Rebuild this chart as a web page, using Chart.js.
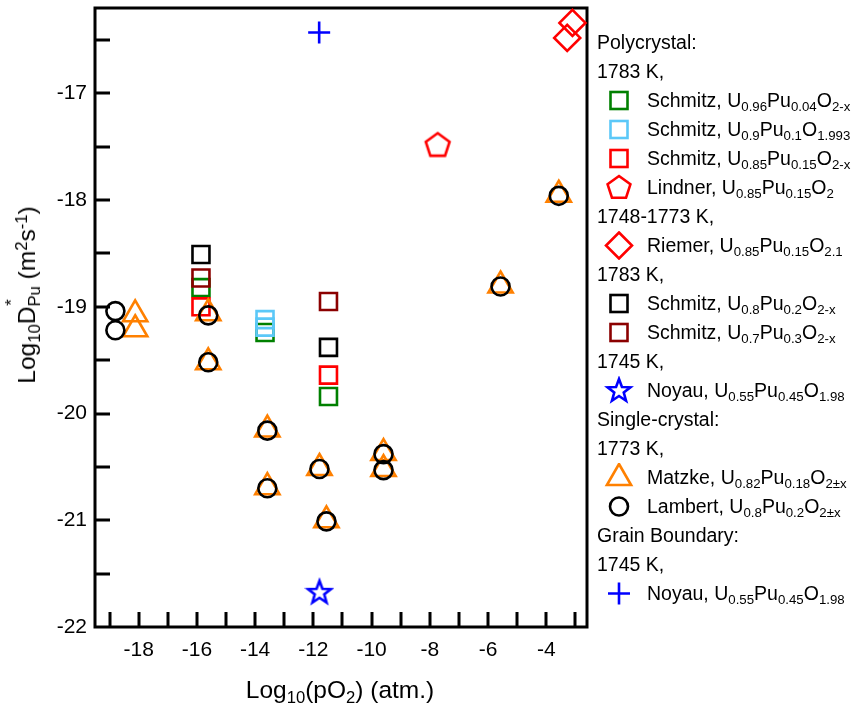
<!DOCTYPE html>
<html>
<head>
<meta charset="utf-8">
<script src="https://cdn.jsdelivr.net/npm/chart.js@4.4.1/dist/chart.umd.min.js"></script>
<style>
html,body{margin:0;padding:0;background:#fff;}
#wrap{position:relative;width:860px;height:705px;font-family:"Liberation Sans",Arial,sans-serif;color:#000;overflow:hidden;}
#c{position:absolute;left:0;top:0;}
#legend{position:absolute;left:597px;top:28px;font-size:19.5px;}
.row{height:29px;line-height:29px;white-space:nowrap;position:relative;}
.item{padding-left:50px;}
.item svg{position:absolute;left:7px;top:0;}
sub{font-size:0.68em;vertical-align:-0.32em;line-height:0;}
sup{font-size:0.68em;vertical-align:0.5em;line-height:0;}
#xtitle{position:absolute;left:340px;top:690px;transform:translate(-50%,-50%);font-size:24.5px;white-space:nowrap;}
#ytitle{position:absolute;left:27px;top:295px;transform:translate(-50%,-50%) rotate(-90deg);font-size:24.5px;white-space:nowrap;}
.dstk{position:relative;display:inline-block;}
.dstk .st{position:absolute;left:0.05em;top:-0.55em;font-size:0.68em;line-height:1;}
</style>
</head>
<body>
<div id="wrap">
<canvas id="c" width="860" height="705"></canvas>
<div id="legend"></div>
<div id="xtitle">Log<sub>10</sub>(pO<sub>2</sub>) (atm.)</div>
<div id="ytitle">Log<sub>10</sub>D<span class="dstk"><sub>Pu</sub><span class="st">*</span></span> (m<sup>2</sup>s<sup>-1</sup>)</div>
</div>
<script>
// ---- data ----
const xTickLabels = [-18, -16, -14, -12, -10, -8, -6, -4];
const yTickLabels = [-17, -18, -19, -20, -21, -22];

const schmitzU096X = [-15.86, -13.66, -11.48];
const schmitzU096Y = [-18.82, -19.24, -19.84];
const schmitzU09X = [-13.66, -13.66];
const schmitzU09Y = [-19.12, -19.19];
const schmitzU085X = [-15.86, -11.48];
const schmitzU085Y = [-19.00, -19.64];
const lindnerX = [-7.73];
const lindnerY = [-17.48];
const riemerX = [-3.10, -3.28];
const riemerY = [-16.34, -16.48];
const schmitzU08X = [-15.86, -11.48];
const schmitzU08Y = [-18.51, -19.38];
const schmitzU07X = [-15.86, -11.48];
const schmitzU07Y = [-18.73, -18.95];
const noyauPolyX = [-11.79];
const noyauPolyY = [-21.67];
const matzkeX = [-18.12, -18.12, -15.61, -15.61, -13.58, -13.58, -11.79, -11.55, -9.59, -9.59, -5.57, -3.57];
const matzkeY = [-19.07, -19.21, -19.06, -19.52, -20.15, -20.69, -20.51, -21.00, -20.37, -20.52, -18.80, -17.95];
const lambertX = [-18.80, -18.80, -15.61, -15.61, -13.58, -13.58, -11.79, -11.55, -9.59, -9.59, -5.57, -3.57];
const lambertY = [-19.04, -19.22, -19.08, -19.52, -20.16, -20.70, -20.52, -21.01, -20.38, -20.53, -18.81, -17.96];
const noyauGBX = [-11.80];
const noyauGBY = [-16.43];

const C = {
  green: '#008000', lblue: '#5bc8f8', red: '#ff0000', black: '#000000',
  brown: '#8b0000', blue: '#0000ff', orange: '#ff8000'
};

function pts(xs, ys) { return xs.map((x, i) => ({x: x, y: ys[i]})); }

function makeIcon(size, drawFn) {
  const c = document.createElement('canvas');
  c.width = size; c.height = size;
  const g = c.getContext('2d');
  drawFn(g, size / 2);
  return c;
}
function polyPath(g, cx, cy, n, rOut, rIn) {
  g.beginPath();
  const k = rIn ? n * 2 : n;
  for (let i = 0; i < k; i++) {
    const r = rIn ? (i % 2 === 0 ? rOut : rIn) : rOut;
    const a = -Math.PI / 2 + i * Math.PI * 2 / k;
    const px = cx + r * Math.cos(a), py = cy + r * Math.sin(a);
    if (i === 0) g.moveTo(px, py); else g.lineTo(px, py);
  }
  g.closePath();
}
const pentIcon = makeIcon(30, (g, h) => {
  polyPath(g, h, h + 1, 5, 12.5);
  g.lineWidth = 2.6; g.strokeStyle = C.red; g.lineJoin = 'miter'; g.stroke();
});
const starIcon = makeIcon(30, (g, h) => {
  polyPath(g, h, h + 1, 5, 12, 5);
  g.lineWidth = 2.6; g.strokeStyle = C.blue; g.lineJoin = 'miter'; g.stroke();
});

function ds(label, xs, ys, color, style, radius, order) {
  return {
    label: label, data: pts(xs, ys), order: order,
    pointStyle: style, pointRadius: radius, borderColor: color,
    backgroundColor: 'rgba(0,0,0,0)', borderWidth: 2.6, showLine: false, clip: false
  };
}

const datasets = [
  ds('Schmitz U0.96Pu0.04O2-x', schmitzU096X, schmitzU096Y, C.green, 'rect', 12, 9),
  ds('Schmitz U0.9Pu0.1O1.993', schmitzU09X, schmitzU09Y, C.lblue, 'rect', 12, 8),
  ds('Schmitz U0.85Pu0.15O2-x', schmitzU085X, schmitzU085Y, C.red, 'rect', 12, 7),
  ds('Lindner U0.85Pu0.15O2', lindnerX, lindnerY, C.red, pentIcon, 12, 6),
  ds('Riemer U0.85Pu0.15O2.1', riemerX, riemerY, C.red, 'rectRot', 13, 5),
  ds('Schmitz U0.8Pu0.2O2-x', schmitzU08X, schmitzU08Y, C.black, 'rect', 12, 4),
  ds('Schmitz U0.7Pu0.3O2-x', schmitzU07X, schmitzU07Y, C.brown, 'rect', 12, 3),
  ds('Noyau U0.55Pu0.45O1.98 (poly)', noyauPolyX, noyauPolyY, C.blue, starIcon, 12, 2),
  ds('Matzke U0.82Pu0.18O2±x', matzkeX, matzkeY, C.orange, 'triangle', 14, 2),
  ds('Lambert U0.8Pu0.2O2±x', lambertX, lambertY, C.black, 'circle', 9, 1),
  ds('Noyau U0.55Pu0.45O1.98 (GB)', noyauGBX, noyauGBY, C.blue, 'cross', 11, 1)
];

const framePlugin = {
  id: 'frame',
  beforeDatasetsDraw(chart) {
    const {ctx, chartArea: a, scales} = chart;
    ctx.save();
    ctx.strokeStyle = '#000';
    ctx.lineWidth = 3;
    ctx.lineCap = 'butt';
    const L = 15;
    ctx.beginPath();
    scales.x.ticks.forEach(t => {
      const px = Math.round(scales.x.getPixelForValue(t.value));
      ctx.moveTo(px, a.bottom); ctx.lineTo(px, a.bottom - L);
    });
    scales.y.ticks.forEach(t => {
      const py = Math.round(scales.y.getPixelForValue(t.value));
      if (Math.abs(py - a.bottom) < 2) return;
      ctx.moveTo(a.left, py); ctx.lineTo(a.left + L, py);
    });
    ctx.stroke();
    ctx.lineWidth = 3;
    ctx.strokeRect(a.left, a.top, a.right - a.left, a.bottom - a.top);
    ctx.restore();
  }
};

Chart.defaults.font.family = '"Liberation Sans", Arial, sans-serif';
Chart.defaults.color = '#000';

new Chart(document.getElementById('c'), {
  type: 'scatter',
  data: {datasets: datasets},
  options: {
    responsive: false, animation: false, events: [],
    layout: {autoPadding: false, padding: {left: 0, right: 273, top: 8, bottom: 0}},
    plugins: {legend: {display: false}, tooltip: {enabled: false}},
    scales: {
      x: {
        type: 'linear', min: -19.5, max: -2.6,
        afterFit(s) { s.height = 78; s.paddingLeft = 0; s.paddingRight = 0; },
        grid: {display: false, drawTicks: false},
        border: {display: false},
        ticks: {
          stepSize: 1, includeBounds: false, autoSkip: false, maxRotation: 0, padding: 11,
          font: {size: 21},
          callback: v => xTickLabels.includes(v) ? String(v) : ''
        }
      },
      y: {
        type: 'linear', min: -22, max: -16.2,
        afterFit(s) { s.width = 95; s.paddingTop = 0; s.paddingBottom = 0; },
        grid: {display: false, drawTicks: false},
        border: {display: false},
        ticks: {
          stepSize: 0.5, includeBounds: false, autoSkip: false, padding: 8,
          font: {size: 21},
          callback: v => yTickLabels.includes(v) ? String(v) : ''
        }
      }
    }
  },
  plugins: [framePlugin]
});

// ---- legend (HTML text) ----
const svgSq = c => `<rect x="6.5" y="6" width="17" height="17" fill="none" stroke="${c}" stroke-width="2.6"/>`;
function svgPoly(n, rO, rI, c) {
  const k = rI ? n * 2 : n; let p = [];
  for (let i = 0; i < k; i++) {
    const r = rI ? (i % 2 === 0 ? rO : rI) : rO;
    const a = -Math.PI / 2 + i * 2 * Math.PI / k;
    p.push((15 + r * Math.cos(a)).toFixed(2) + ',' + (15 + r * Math.sin(a)).toFixed(2));
  }
  return `<polygon points="${p.join(' ')}" fill="none" stroke="${c}" stroke-width="2.6"/>`;
}
const M = {
  sqG: svgSq(C.green), sqB: svgSq(C.lblue), sqR: svgSq(C.red), sqK: svgSq(C.black), sqD: svgSq(C.brown),
  pent: svgPoly(5, 12, 0, C.red),
  diam: `<polygon points="15,1.5 28,14.5 15,27.5 2,14.5" fill="none" stroke="${C.red}" stroke-width="2.6"/>`,
  star: svgPoly(5, 12, 5, C.blue),
  tri: `<polygon points="15,1 27.1,22 2.9,22" fill="none" stroke="${C.orange}" stroke-width="2.6"/>`,
  circ: `<circle cx="15" cy="14.5" r="9" fill="none" stroke="#000" stroke-width="2.6"/>`,
  plus: `<path d="M15 3.5 V25.5 M4 14.5 H26" stroke="${C.blue}" stroke-width="2.6"/>`
};
const legendRows = [
  ['h', 'Polycrystal:'],
  ['h', '1783 K,'],
  ['sqG', 'Schmitz, U<sub>0.96</sub>Pu<sub>0.04</sub>O<sub>2-x</sub>'],
  ['sqB', 'Schmitz, U<sub>0.9</sub>Pu<sub>0.1</sub>O<sub>1.993</sub>'],
  ['sqR', 'Schmitz, U<sub>0.85</sub>Pu<sub>0.15</sub>O<sub>2-x</sub>'],
  ['pent', 'Lindner, U<sub>0.85</sub>Pu<sub>0.15</sub>O<sub>2</sub>'],
  ['h', '1748-1773 K,'],
  ['diam', 'Riemer, U<sub>0.85</sub>Pu<sub>0.15</sub>O<sub>2.1</sub>'],
  ['h', '1783 K,'],
  ['sqK', 'Schmitz, U<sub>0.8</sub>Pu<sub>0.2</sub>O<sub>2-x</sub>'],
  ['sqD', 'Schmitz, U<sub>0.7</sub>Pu<sub>0.3</sub>O<sub>2-x</sub>'],
  ['h', '1745 K,'],
  ['star', 'Noyau, U<sub>0.55</sub>Pu<sub>0.45</sub>O<sub>1.98</sub>'],
  ['h', 'Single-crystal:'],
  ['h', '1773 K,'],
  ['tri', 'Matzke, U<sub>0.82</sub>Pu<sub>0.18</sub>O<sub>2±x</sub>'],
  ['circ', 'Lambert, U<sub>0.8</sub>Pu<sub>0.2</sub>O<sub>2±x</sub>'],
  ['h', 'Grain Boundary:'],
  ['h', '1745 K,'],
  ['plus', 'Noyau, U<sub>0.55</sub>Pu<sub>0.45</sub>O<sub>1.98</sub>']
];
document.getElementById('legend').innerHTML = legendRows.map(r => r[0] === 'h'
  ? `<div class="row">${r[1]}</div>`
  : `<div class="row item"><svg width="30" height="29" viewBox="0 0 30 29">${M[r[0]]}</svg>${r[1]}</div>`
).join('');
</script>
</body>
</html>
